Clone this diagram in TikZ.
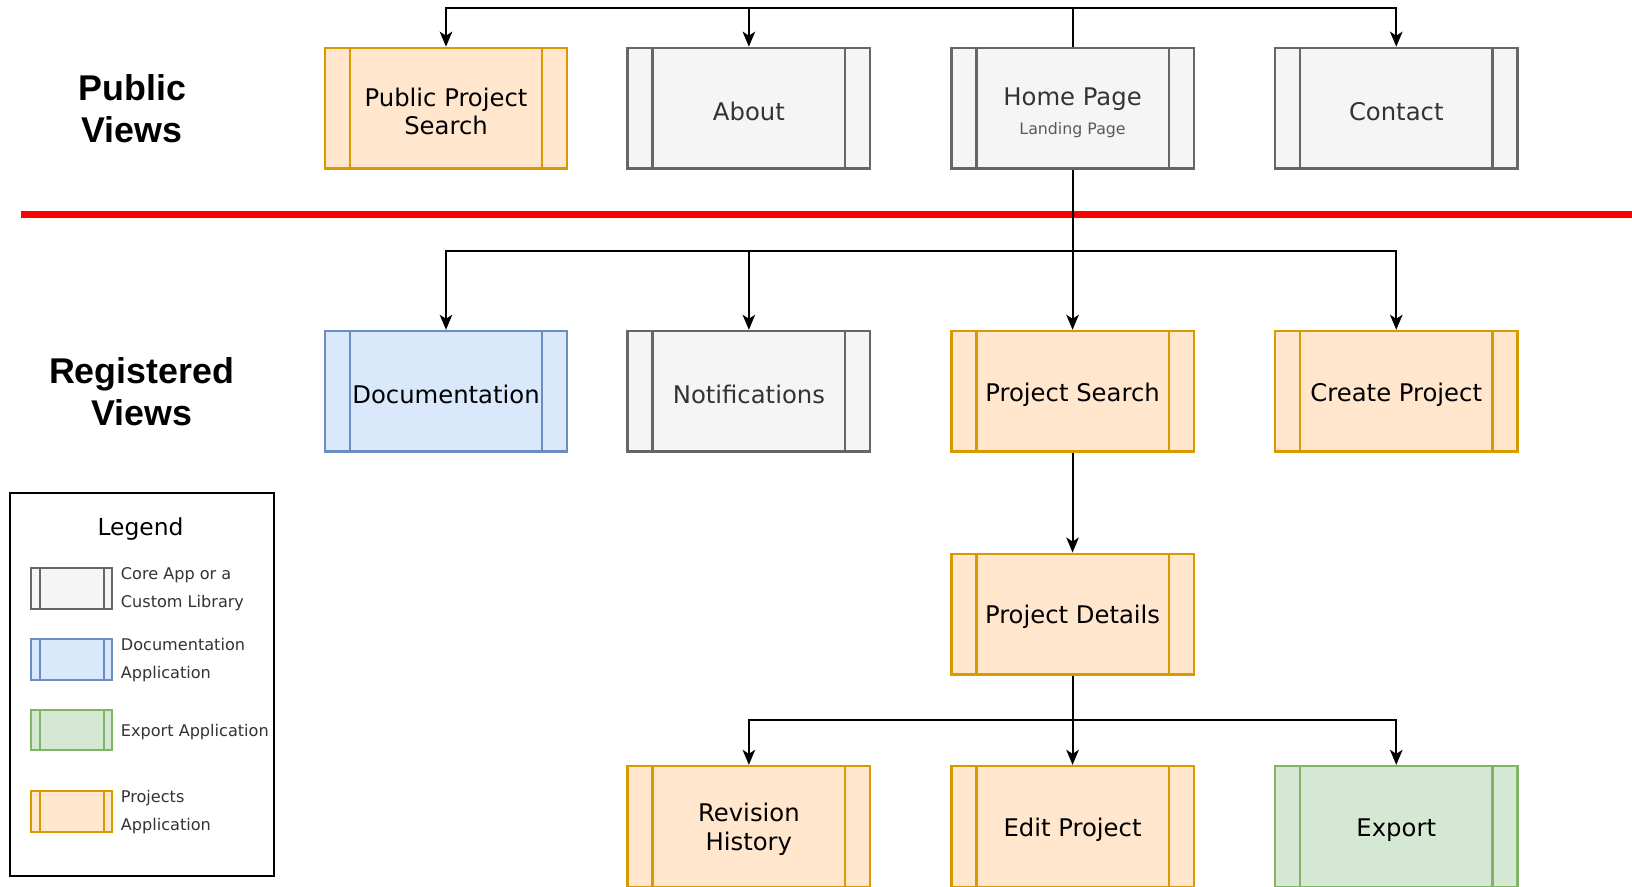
\documentclass[tikz,border=0pt]{standalone}
\usepackage{fontspec}
\setmainfont{DejaVu Sans}
\newfontfamily\headfont{Liberation Sans}
\usetikzlibrary{arrows.meta}
\definecolor{gfill}{HTML}{F5F5F5}
\definecolor{gline}{HTML}{666666}
\definecolor{bfill}{HTML}{DAE8FC}
\definecolor{bline}{HTML}{6C8EBF}
\definecolor{grfill}{HTML}{D5E8D4}
\definecolor{grline}{HTML}{82B366}
\definecolor{ofill}{HTML}{FFE6CC}
\definecolor{oline}{HTML}{D79B00}
\definecolor{gtext}{HTML}{333333}
\definecolor{subtext}{HTML}{5A5A5A}
\tikzset{
  proc/.style 2 args={draw=#2, fill=#1, line width=2.4pt,
    minimum width=242.5pt, minimum height=120.7pt, inner sep=0pt,
    text height=24.5pt,
    align=center, font=\fontsize{24.3}{28.2}\selectfont,
    path picture={\draw[#2, line width=2.4pt]
      ([xshift=25pt]path picture bounding box.north west) -- ([xshift=25pt]path picture bounding box.south west)
      ([xshift=-25pt]path picture bounding box.north east) -- ([xshift=-25pt]path picture bounding box.south east);}},
  twoline/.style={text height=52.4pt},
  gbox/.style={proc={gfill}{gline}, text=gtext},
  bbox/.style={proc={bfill}{bline}, text=black},
  grbox/.style={proc={grfill}{grline}, text=black},
  obox/.style={proc={ofill}{oline}, text=black},
  swatch/.style 2 args={draw=#2, fill=#1, line width=2pt,
    minimum width=81.2pt, minimum height=40.6pt, inner sep=0pt,
    path picture={\draw[#2, line width=2pt]
      ([xshift=8.5pt]path picture bounding box.north west) -- ([xshift=8.5pt]path picture bounding box.south west)
      ([xshift=-8.5pt]path picture bounding box.north east) -- ([xshift=-8.5pt]path picture bounding box.south east);}},
  legtext/.style={anchor=west, align=left, inner sep=0pt, text=gtext,
    font=\fontsize{16.1}{28.1}\selectfont},
  heading/.style={align=center, font=\headfont\bfseries\fontsize{35.8}{41.6}\selectfont},
  arr/.style={draw=black, line width=2.1pt, -{Stealth[length=15pt, width=12.5pt, inset=4pt]}},
  conn/.style={draw=black, line width=2.1pt},
}
\begin{document}
\begin{tikzpicture}[x=1.0408pt, y=-1.0408pt]
\clip (0,0) rectangle (1568,851.3);
\fill[white] (0,0) rectangle (1568,851.3);

% headings
\node[heading] (pubh) at (127,104.5) {Public\\Views};
\node[heading] (regh) at (136,376.5) {Registered\\Views};

% red separator
\draw[red, line width=7.3pt] (20,206) -- (1568,206);

% row 1
\node[obox, twoline] (pps) at (428.5,104) {Public Project\\Search};
\node[gbox] (about) at (719.5,104) {About};
\node[gbox, text height=55pt] (home) at (1030.5,104) {Home Page\\[0pt]{\color{subtext}\fontsize{15.8}{18}\selectfont Landing Page}};
\node[gbox] (contact) at (1341.5,104) {Contact};

% row 2
\node[bbox] (doc) at (428.5,376) {Documentation};
\node[gbox] (notif) at (719.5,376) {Notifications};
\node[obox] (psearch) at (1030.5,376) {Project Search};
\node[obox] (create) at (1341.5,376) {Create Project};

% row 3
\node[obox] (pdet) at (1030.5,590) {Project Details};

% row 4
\node[obox, twoline] (rev) at (719.5,794) {Revision\\History};
\node[obox] (edit) at (1030.5,794) {Edit Project};
\node[grbox] (export) at (1341.5,794) {Export};

% connectors
\coordinate (top) at (1030.5,8);
\draw[conn] (home.north) -- (top);
\draw[arr] (top) -| (pps.north);
\draw[arr] (top) -| (about.north);
\draw[arr] (top) -| (contact.north);

\coordinate (mid) at (1030.5,241);
\draw[arr] (home.south) -- (psearch.north);
\draw[arr] (mid) -| (doc.north);
\draw[arr] (mid) -| (notif.north);
\draw[arr] (mid) -| (create.north);

\draw[arr] (psearch.south) -- (pdet.north);

\coordinate (low) at (1030.5,692);
\draw[arr] (pdet.south) -- (edit.north);
\draw[arr] (low) -| (rev.north);
\draw[arr] (low) -| (export.north);

% legend
\node[draw=black, line width=2pt, minimum width=263.3pt, minimum height=383pt] (legend) at (136.5,658) {};
\node[text=black, font=\fontsize{23.4}{28}\selectfont] (legt) at (135,508) {Legend};
\node[swatch={gfill}{gline}] (sw1) at (69,565.5) {};
\node[swatch={bfill}{bline}] (sw2) at (69,633.5) {};
\node[swatch={grfill}{grline}] (sw3) at (69,701.5) {};
\node[swatch={ofill}{oline}] (sw4) at (69,779.5) {};
\node[legtext] (l1) at (116,566.5) {Core App or a\\Custom Library};
\node[legtext] (l2) at (116,634.5) {Documentation\\Application};
\node[legtext] (l3) at (116,703) {Export Application};
\node[legtext] (l4) at (116,780.5) {Projects\\Application};
\end{tikzpicture}
\end{document}
